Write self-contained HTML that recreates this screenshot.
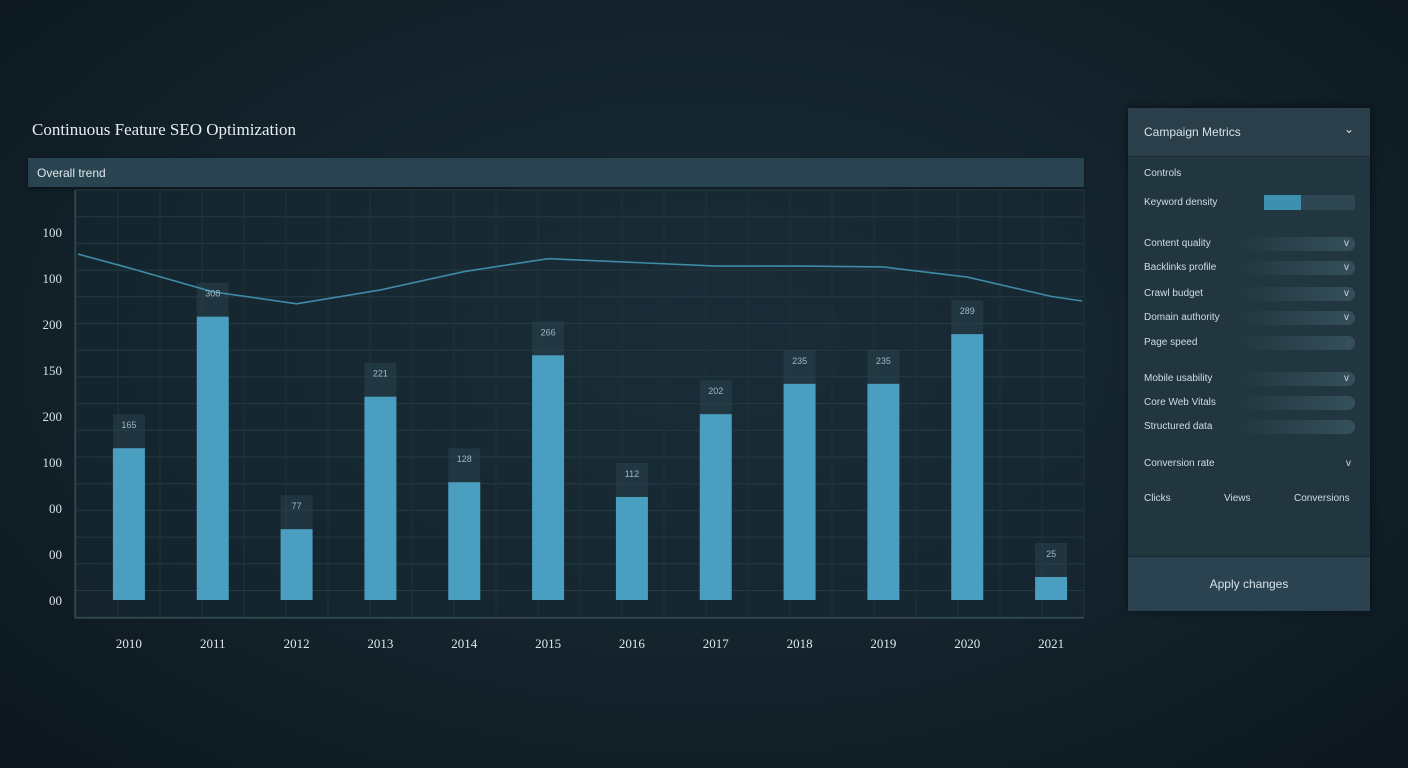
<!DOCTYPE html>
<html><head><meta charset="utf-8">
<style>
body{margin:0;width:1408px;height:768px;overflow:hidden;background:radial-gradient(ellipse at 50% 45%,#1c2f3a 0%,#13222b 55%,#0c171e 100%);font-family:"Liberation Sans",sans-serif;color:#d6e2e8}
.abs{position:absolute}
.title{left:32px;top:120px;font-size:17px;color:#e6eef2;font-family:"Liberation Serif",serif}
.sub{left:28px;top:158px;width:1056px;height:29px;background:#2a4350;box-shadow:0 1px 3px #0008}
.sub span{position:absolute;left:9px;top:8px;font-size:12px;color:#dfe8ec}
.panel{left:1128px;top:108px;width:242px;height:502px;background:#22363f;border-radius:3px;box-shadow:0 0 8px #0008}
.ph{position:absolute;left:0;top:0;width:242px;height:48px;background:#2a3f49;border-bottom:1px solid #1b2c34}
.row{position:absolute;left:16px;font-size:10px;color:#d0dce2}
.pill{position:absolute;left:110px;width:117px;height:14px;border-radius:7px;background:linear-gradient(90deg,#22363f,#35505c)}
.foot{position:absolute;left:0;top:448px;width:242px;height:54px;background:#2b4350;border-top:1px solid #18282f;text-align:center;line-height:54px;font-size:12px}
</style></head><body>
<div class="abs title">Continuous Feature SEO Optimization</div>
<div class="abs sub"><span>Overall trend</span></div>
<svg class="abs" style="left:0;top:0" width="1100" height="680">
<g id="grid"></g><g id="bars"></g><g id="line"></g><g id="labels"></g>
</svg>
<div class="abs panel">
 <div class="ph"><span style="position:absolute;left:16px;top:17px;font-size:12px">Campaign Metrics</span><span style="position:absolute;right:16px;top:14px;font-size:12px">⌄</span></div>
 <div class="row" style="top:60px">Controls</div>
 <div class="row" style="top:89px">Keyword density</div>
 <div style="position:absolute;left:136px;top:87px;width:91px;height:15px;background:#2e4753;border-radius:2px"><div style="width:37px;height:15px;background:#3f8fae"></div></div>
 <div id="rows"></div>
 <div class="row" style="top:350px">Conversion rate</div><div class="row" style="top:350px;left:218px">v</div>
 <div class="row" style="top:385px">Clicks</div>
 <div class="row" style="top:385px;left:96px">Views</div>
 <div class="row" style="top:385px;left:166px">Conversions</div>
 <div class="foot">Apply changes</div>
</div>
<script>
const categories=["2010","2011","2012","2013","2014","2015","2016","2017","2018","2019","2020","2021"];
const barValues=[165,308,77,221,128,266,112,202,235,235,289,25];
const lineValues=[361,335,322,337,357,371,367,363,363,362,351,330];
const lineStart=376, lineEnd=325;
const yTicks=[0,50,100,150,200,250,300,350,400];
const yTickLabels=["00","00","00","100","200","150","200","100","100"];
const ns="http://www.w3.org/2000/svg";
const X0=87,X1=1093,Y0=600,YMAX=400,YTOP=232;
const step=(X1-X0)/categories.length;
const xc=i=>X0+step*(i+0.5);
const y=v=>Y0-(v/YMAX)*(Y0-YTOP);
function mk(t,a,p){const e=document.createElementNS(ns,t);for(const k in a)e.setAttribute(k,a[k]);p.appendChild(e);return e;}
const grid=document.getElementById('grid'),bars=document.getElementById('bars'),ln=document.getElementById('line'),lb=document.getElementById('labels');
mk('rect',{x:76,y:190,width:1008,height:428,fill:'#172a33',opacity:0.5},grid);
for(let gy=190;gy<=618;gy+=26.7){mk('line',{x1:76,x2:1084,y1:gy,y2:gy,stroke:'#243a44','stroke-width':1},grid);}
for(let gx=76;gx<=1084;gx+=42){mk('line',{x1:gx,x2:gx,y1:190,y2:618,stroke:'#1f323b','stroke-width':1},grid);}
mk('line',{x1:75,x2:75,y1:190,y2:618,stroke:'#3f5661'},grid);
mk('line',{x1:75,x2:1084,y1:618,y2:618,stroke:'#3f5661'},grid);
yTicks.forEach((t,i)=>{const e=mk('text',{x:62,y:y(t)+5,'text-anchor':'end','font-size':13,fill:'#d8e3e8','font-family':'Liberation Serif'},lb);e.textContent=yTickLabels[i];
});
categories.forEach((c,i)=>{
 const bw=32,bx=xc(i)-bw/2;
 mk('rect',{x:bx,y:y(barValues[i])-34,width:bw,height:34,fill:'#2a4450',opacity:0.5},bars);
 const r=mk('rect',{x:bx,y:y(barValues[i]),width:bw,height:Y0-y(barValues[i]),fill:'#4a9fc0'},bars);
 
 
 const v=mk('text',{x:xc(i),y:y(barValues[i])-20,'text-anchor':'middle','font-size':9,fill:'#9fb8c2'},lb);v.textContent=barValues[i];
 
 
 const t=mk('text',{x:xc(i),y:648,'text-anchor':'middle','font-size':13,fill:'#dde7eb','font-family':'Liberation Serif'},lb);t.textContent=c;
 
 
});
const pts=[78+','+y(lineStart)].concat(lineValues.map((v,i)=>xc(i)+','+y(v))).concat([1082+','+y(lineEnd)]).join(' ');
const pl=mk('polyline',{points:pts,fill:'none',stroke:'#3d8ba6','stroke-width':1.6},ln);


const rowLabels=["Content quality","Backlinks profile","Crawl budget","Domain authority","Page speed","Mobile usability","Core Web Vitals","Structured data"];
const rowTops=[130,154,180,204,229,265,289,313];
const rowArrow=[1,1,1,1,0,1,0,0];
const rows=document.getElementById('rows');
rowLabels.forEach((l,i)=>{
 const p=document.createElement('div');p.className='pill';p.style.top=(rowTops[i]-1)+'px';rows.appendChild(p);
 
 
 const d=document.createElement('div');d.className='row';d.style.top=rowTops[i]+'px';d.textContent=l;rows.appendChild(d);
 
 
 if(rowArrow[i]){const a=document.createElement('div');a.className='row';a.style.left='216px';a.style.top=rowTops[i]+'px';a.textContent='v';rows.appendChild(a);
 
 }
});
</script>
</body></html>
